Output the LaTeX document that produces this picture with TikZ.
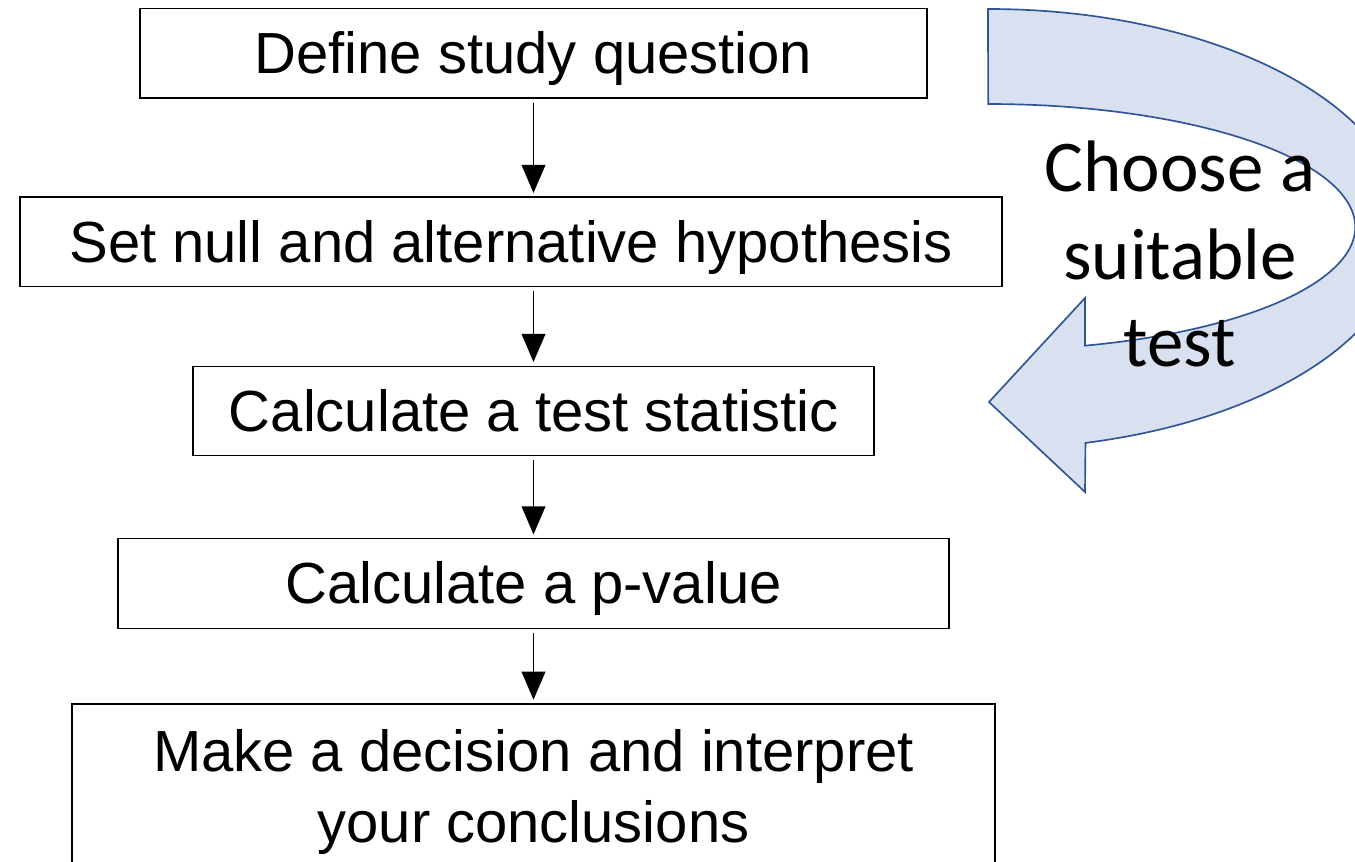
\documentclass[tikz,border=0pt]{standalone}
\usepackage{fontspec}
\setmainfont{Liberation Sans}
\newfontfamily\calibri{Carlito}
\usetikzlibrary{arrows.meta}
\definecolor{bandfill}{HTML}{D9E1F1}
\definecolor{bandline}{HTML}{2F5597}
\begin{document}
\begin{tikzpicture}[>={Triangle[length=16pt,width=13.5pt]},
    stepbox/.style={draw, line width=0.85pt, inner sep=0pt, minimum height=1.79cm,
        font=\fontsize{33}{40.5}\selectfont, text height=23pt, text depth=0pt},
    flow/.style={->, line width=0.85pt, shorten >=2pt, shorten <=2pt}]
    \useasboundingbox (0,0) rectangle (27.1,-17.24);
    \clip (0,0) rectangle (27.1,-17.24);
    \node[stepbox, minimum width=15.74cm] (define) at (10.67,-1.07) {Define study question};
    \node[stepbox, minimum width=19.64cm] (hypo) at (10.22,-4.84) {Set null and alternative hypothesis};
    \node[stepbox, minimum width=13.62cm] (stat) at (10.67,-8.22) {Calculate a test statistic};
    \node[stepbox, minimum width=16.62cm] (pval) at (10.67,-11.67) {Calculate a p-value};
    \node[stepbox, text height=, text depth=, align=center, minimum width=18.46cm,
        minimum height=3.52cm] (decide) at (10.67,-15.84)
        {Make a decision and interpret\\your conclusions};
    \draw[flow] (define.south) -- (hypo.north -| define.south);
    \draw[flow] (hypo.south -| stat.north) -- (stat.north);
    \draw[flow] (stat.south) -- (pval.north);
    \draw[flow] (pval.south) -- (decide.north);
    \draw[fill=bandfill, draw=bandline, line width=0.95pt, line join=miter]
        (19.76,-0.18) arc[start angle=90, end angle=-76.5, x radius=8.35, y radius=4.4]
        -- (21.7,-9.84) -- (19.78,-8.04) -- (21.7,-5.96)
        -- (21.7,-6.913) arc[start angle=-74.7, end angle=90, x radius=7.34, y radius=2.46]
        -- cycle;
    \node[align=center, font=\calibri\fontsize{41.5}{50}\selectfont] (choose) at (23.6,-5.08)
        {Choose a\\suitable\\test};
\end{tikzpicture}
\end{document}
